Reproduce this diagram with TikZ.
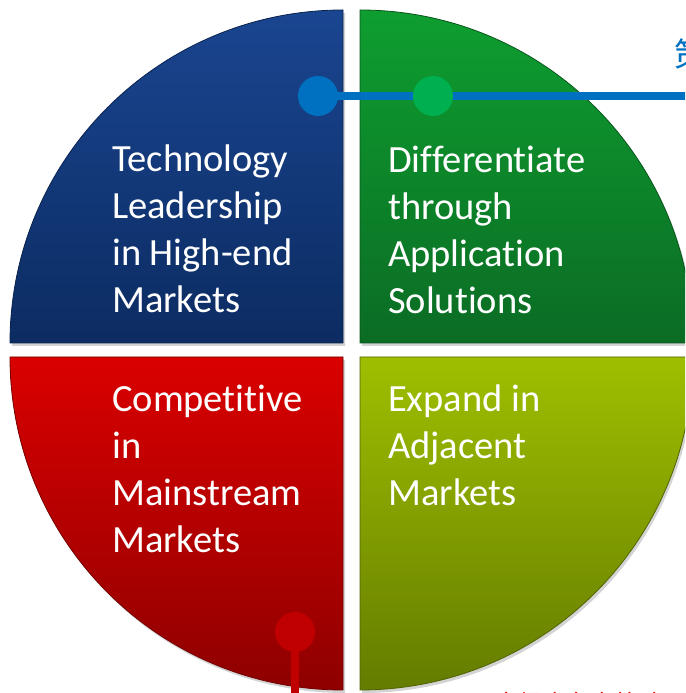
\documentclass[tikz,border=0pt]{standalone}
\usepackage{fontspec}
\setmainfont[Ligatures={NoCommon}]{Carlito}
\newfontfamily\cjkfont{Noto Sans CJK SC}
\usetikzlibrary{shadows}
\definecolor{bluetop}{HTML}{1A4590}
\definecolor{bluebot}{HTML}{0C2C62}
\definecolor{greentop}{HTML}{0E9E30}
\definecolor{greenbot}{HTML}{0B6C24}
\definecolor{redtop}{HTML}{DA0000}
\definecolor{redbot}{HTML}{8E0000}
\definecolor{olivetop}{HTML}{9EBF00}
\definecolor{olivebot}{HTML}{647C00}
\definecolor{lineblue}{HTML}{0070C0}
\definecolor{dotgreen}{HTML}{00B050}
\definecolor{linered}{HTML}{C00000}
\tikzset{
  quad/.style={drop shadow={opacity=0.35,shadow xshift=2pt,shadow yshift=-3pt}},
  label/.style={anchor=north west,inner sep=0pt,align=left,text=white,
    font=\fontsize{38.5}{47}\selectfont},
  dot/.style={circle,minimum size=40pt,inner sep=0pt,fill=#1},
}
\begin{document}
\begin{tikzpicture}[x=1pt,y=1pt]
\useasboundingbox (0,0) rectangle (685,693);
\clip (0,0) rectangle (685,693);
% quadrants
\path[quad,top color=bluetop,bottom color=bluebot,draw=bluebot!80!black,line width=0.8pt]
  (343,350) -- ++(-333,0) arc[start angle=180,end angle=90,radius=333pt] -- cycle;
\path[quad,top color=greentop,bottom color=greenbot,draw=greenbot!80!black,line width=0.8pt]
  (360,350) -- ++(0,333) arc[start angle=90,end angle=0,radius=333pt] -- cycle;
\path[quad,top color=redtop,bottom color=redbot,draw=redbot!80!black,line width=0.8pt]
  (343,336) -- ++(-333,0) arc[start angle=180,end angle=270,radius=333pt] -- cycle;
\path[quad,top color=olivetop,bottom color=olivebot,draw=olivebot!80!black,line width=0.8pt]
  (360,336) -- ++(333,0) arc[start angle=0,end angle=-90,radius=333pt] -- cycle;
% texts
\node[label] (tech) at (112,548) {Technology\\Leadership\\in High-end\\Markets};
\node[label] (diff) at (388,547) {Differentiate\\through\\Application\\Solutions};
\node[label] (comp) at (112,308) {Competitive\\in\\Mainstream\\Markets};
\node[label] (expa) at (388,308) {Expand in\\Adjacent\\Markets};
% connectors
\node[dot=lineblue] (bdot) at (318,597) {};
\coordinate (bend) at (700,597);
\draw[lineblue,line width=7.5pt] (bdot.center) -- (bend);
\node[dot=dotgreen] (gdot) at (433,597) {};
\node[dot=linered] (rdot) at (295,61) {};
\coordinate (rend) at (295,-10);
\draw[linered,line width=8pt] (rdot.center) -- (rend);
% cut-off captions
\node[anchor=west,inner sep=0pt,text=lineblue,font=\cjkfont\fontsize{34}{40}\selectfont] (capb) at (674,638) {策略};
\node[anchor=north west,inner sep=0pt,text=red,font=\cjkfont\fontsize{24}{28}\selectfont] (capr) at (495,1.5) {市场竞争力策略};
\end{tikzpicture}
\end{document}
